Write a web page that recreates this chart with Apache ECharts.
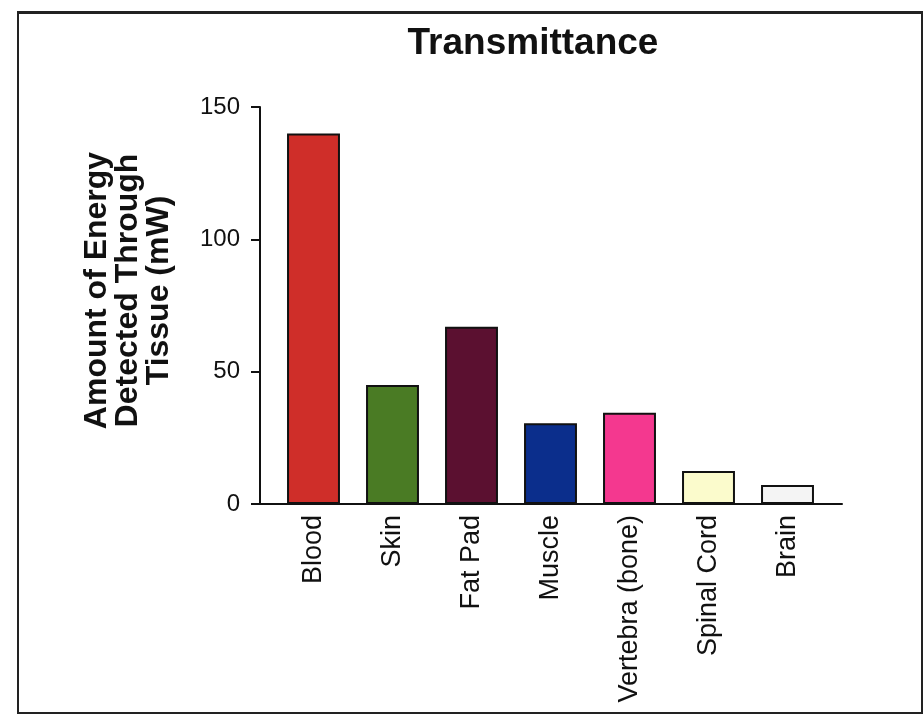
<!DOCTYPE html>
<html>
<head>
<meta charset="utf-8">
<script src="https://cdn.jsdelivr.net/npm/echarts@6/dist/echarts.min.js"></script>
<style>
html,body{margin:0;padding:0;background:#fff;}
#wrap{position:relative;width:923px;height:715px;}
#frame{position:absolute;left:17px;top:11px;width:902px;height:698px;border:2px solid #222;border-top-width:3px;box-sizing:content-box;pointer-events:none;}
#chart{position:absolute;left:0;top:0;width:923px;height:715px;}
</style>
</head>
<body>
<div id="wrap"><div id="chart"></div><div id="frame"></div></div>
<script>
const categories = ['Blood', 'Skin', 'Fat Pad', 'Muscle', 'Vertebra (bone)', 'Spinal Cord', 'Brain'];
const values = [140, 45, 67, 30.5, 34.5, 12.5, 7.2];
const barColors = ['#cf2e29', '#4a7b24', '#5b1030', '#0b2e8c', '#f4388f', '#fbfbcc', '#f4f4f4'];
const yTicks = [0, 50, 100, 150];

const chart = echarts.init(document.getElementById('chart'), null, {renderer: 'canvas'});
const font = 'Liberation Sans, Arial, sans-serif';
chart.setOption({
  animation: false,
  backgroundColor: '#ffffff',
  title: {
    text: 'Transmittance',
    left: 528, top: 20, textAlign: 'center',
    textStyle: {fontFamily: font, fontSize: 37, fontWeight: 'bold', color: '#111'}
  },
  grid: [
    {left: 274, right: 96, top: 107, bottom: 211, containLabel: false},
    {left: 260, right: 81, top: 107, bottom: 211, containLabel: false}
  ],
  xAxis: [
    {
      type: 'category', data: categories, gridIndex: 0,
      axisLine: {show: false},
      axisTick: {show: false},
      axisLabel: {rotate: 90, margin: 11, fontFamily: font, fontSize: 27, color: '#111', interval: 0}
    },
    {
      type: 'value', gridIndex: 1, min: 0, max: 1,
      axisLine: {show: true, onZero: false, lineStyle: {color: '#111', width: 2}},
      axisTick: {show: false}, axisLabel: {show: false}, splitLine: {show: false}
    }
  ],
  yAxis: [
    {
      type: 'value', gridIndex: 0, min: yTicks[0], max: yTicks[yTicks.length - 1], interval: 50,
      offset: 14,
      name: 'Amount of Energy\nDetected Through\nTissue (mW)',
      nameLocation: 'middle', nameGap: 85,
      nameTextStyle: {fontFamily: font, fontSize: 32, fontWeight: 'bold', color: '#111', lineHeight: 31, padding: [0, 0, 0, 30]},
      axisLine: {show: true, lineStyle: {color: '#111', width: 2}},
      axisTick: {show: true, length: 9, lineStyle: {color: '#111', width: 2}},
      axisLabel: {margin: 20, fontFamily: font, fontSize: 24, color: '#111'},
      splitLine: {show: false}
    },
    {
      type: 'value', gridIndex: 1, show: false
    }
  ],
  series: [{
    type: 'bar', xAxisIndex: 0, yAxisIndex: 0,
    barCategoryGap: '33%',
    data: values.map((v, i) => ({value: v, itemStyle: {color: barColors[i]}})),
    itemStyle: {borderColor: '#111', borderWidth: 2}
  }]
});
</script>
</body>
</html>
